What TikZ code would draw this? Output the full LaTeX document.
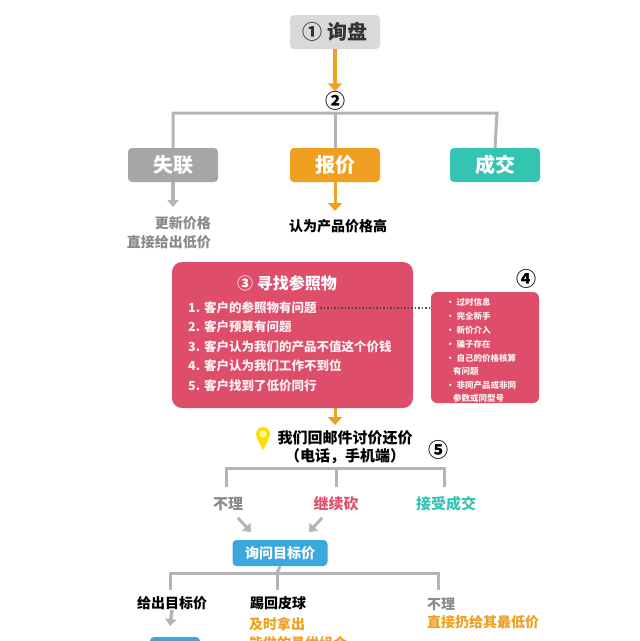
\documentclass[tikz,border=0pt]{standalone}
\usepackage{fontspec}
\setmainfont{Noto Sans CJK SC}
\usetikzlibrary{arrows.meta,shapes.geometric}
\definecolor{cgray}{HTML}{A6A6A6}
\definecolor{lgray}{HTML}{D9D9D9}
\definecolor{lngray}{HTML}{B4B4B4}
\definecolor{corange}{HTML}{F0A020}
\definecolor{cteal}{HTML}{35C4B2}
\definecolor{cpink}{HTML}{DE4D69}
\definecolor{cblue}{HTML}{3AA8DC}
\definecolor{tgray}{HTML}{8A8A8A}
\tikzset{
 box/.style={rounded corners=4pt,minimum width=90pt,minimum height=34pt,text=white,font=\fontsize{20}{22}\selectfont\bfseries,inner sep=0pt},
 bline/.style={lngray,line width=3pt},
 oarrow/.style={corange,line width=4pt,-{Triangle[length=8pt,width=14pt]}},
 garrow/.style={lngray,line width=3.5pt,-{Triangle[length=7pt,width=11pt]}},
 lbl/.style={font=\fontsize{14}{16}\selectfont\bfseries,inner sep=0pt},
 num/.style={font=\fontsize{20}{22}\selectfont\bfseries,inner sep=0pt},
 item/.style={font=\fontsize{12.5}{14}\selectfont\bfseries,text=white!92!cpink,inner sep=0pt,anchor=west},
 sitem/.style={font=\fontsize{8.5}{10}\selectfont\bfseries,text=white!92!cpink,inner sep=0pt,anchor=west},
}
\begin{document}
\begin{tikzpicture}[x=1pt,y=-1pt]
\useasboundingbox (0,0) rectangle (640,641);
\clip (0,0) rectangle (640,641);
% top
\node[box,fill=lgray,text=black!80] (xp) at (335,32) {① 询盘};
\node[num] (n2) at (335,101) {②};
\draw[oarrow] (xp.south) -- (n2.north);
\coordinate (bl) at (173,113); \coordinate (br) at (497,113); \coordinate (bm) at (335,113);
\node[box,fill=cgray] (sl) at (173,165) {失联};
\node[box,fill=corange] (bj) at (335,165) {报价};
\node[box,fill=cteal] (cj) at (495,165) {成交};
\draw[bline] (sl.north) -- (bl) -- (br) -- (cj.north);
\draw[bline] (bm) -- (bj.north);
\node[lbl,text=tgray,align=right,anchor=north east] (gx) at (211,216) {更新价格\\[3pt]直接给出低价};
\coordinate (ga) at (173,207);
\draw[garrow] (sl.south) -- (ga);
\node[lbl] (rw) at (338,226) {认为产品价格高};
\coordinate (oa) at (335,211);
\draw[oarrow,line width=3pt] (bj.south) -- (oa);
% pink box
\node[fill=cpink,rounded corners=10pt,minimum width=241pt,minimum height=146pt,inner sep=0pt] (pb) at (292.5,335) {};
\node[font=\fontsize{16}{18}\selectfont\bfseries,text=white,inner sep=0pt] (pt) at (287,283) {③ 寻找参照物};
\node[item] (i1) at (188,308) {1. 客户的参照物有问题};
\node[item] (i2) at (188,327) {2. 客户预算有问题};
\node[item] (i3) at (188,347) {3. 客户认为我们的产品不值这个价钱};
\node[item] (i4) at (188,366) {4. 客户认为我们工作不到位};
\node[item] (i5) at (188,386) {5. 客户找到了低价同行};
\node[fill=cpink,rounded corners=6pt,minimum width=108pt,minimum height=111pt,inner sep=0pt] (sb) at (485,347.5) {};
\draw[black!70,line width=1.5pt,dotted] (i1.east) -- (sb.west |- i1.east);
\node[num] (n4) at (526,279) {④};
\node[sitem] at (446,302) {· 过时信息};
\node[sitem] at (446,316) {· 完全新手};
\node[sitem] at (446,330) {· 新价介入};
\node[sitem] at (446,344) {· 骗子存在};
\node[sitem] at (446,358) {· 自己的价格核算};
\node[sitem] at (453,371) {有问题};
\node[sitem] at (446,385) {· 非同产品或非同};
\node[sitem] at (453,398) {参数或同型号};
% reply
\node[lbl,font=\fontsize{15}{18}\selectfont\bfseries,align=center] (hy) at (345,447) {我们回邮件讨价还价\\（电话，手机端）};
\coordinate (ra) at (335,425);
\draw[oarrow,line width=3pt] (pb.south -| ra) -- (ra);
\fill[yellow!80!orange] (263,434) circle (7pt);
\fill[yellow!80!orange] (257,438) -- (263,450) -- (269,438) -- cycle;
\fill[yellow!40] (263,434) circle (3.5pt);
\node[num] (n5) at (438,450) {⑤};
\node[lbl,font=\fontsize{15}{18}\selectfont\bfseries,text=tgray] (bl2) at (228,504) {不理};
\node[lbl,font=\fontsize{15}{18}\selectfont\bfseries,text=cpink] (jx) at (336,504) {继续砍};
\node[lbl,font=\fontsize{15}{18}\selectfont\bfseries,text=cteal] (js) at (446,504) {接受成交};
\draw[bline] (226,487) -- (226,468) -- (444,468) -- (444,487);
\draw[bline] (336,468) -- (336,487);
\node[rounded corners=4pt,fill=cblue,text=white,lbl,minimum width=95pt,minimum height=26pt] (xw) at (280,553) {询问目标价};
\draw[garrow,line width=3pt] (238,518) -- (251,532);
\draw[garrow,line width=3pt] (322,518) -- (309,532);
\draw[bline] (xw.south) -- (277,573);
\draw[bline] (170,590) -- (170,573) -- (438,573) -- (438,590);
\draw[bline] (277,573) -- (277,590);
\node[lbl] (gc) at (172,603) {给出目标价};
\node[lbl] (tq) at (278,603) {踢回皮球};
\node[lbl,text=tgray,anchor=west] (bl3) at (427,604) {不理};
\node[lbl,text=corange,anchor=west] (zj) at (427,622) {直接扔给其最低价};
\node[lbl,text=corange,anchor=west] (js2) at (249,624) {及时拿出};
\node[lbl,text=corange,anchor=west] (nz) at (249,643) {能做的最优组合};
\draw[garrow] (gc.south) -- (170,626);
\node[rounded corners=4pt,fill=cblue,minimum width=50pt,minimum height=26pt] (bb) at (175,650) {};
\end{tikzpicture}
\end{document}
